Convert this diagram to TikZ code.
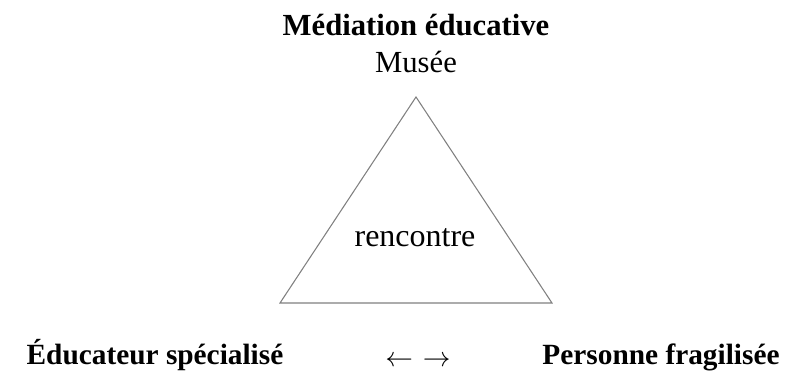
\documentclass[tikz,border=0pt]{standalone}
\usepackage{fontspec}
\setmainfont{Liberation Serif}
\usetikzlibrary{positioning}

\begin{document}
\begin{tikzpicture}[x=0.75pt, y=-0.75pt,
  lbl/.style={inner sep=0pt, anchor=base, font=\fontsize{23}{27}\selectfont},
  blbl/.style={lbl, font=\fontsize{23}{27}\selectfont\bfseries}]
\useasboundingbox (0,0) rectangle (794,374);
\coordinate (A) at (416,97);
\coordinate (B) at (280,303);
\coordinate (C) at (552,303);
\draw[gray, line width=0.8pt] (A) -- (B) -- (C) -- cycle;
\node[blbl] (titre) at (416,36) {Médiation éducative};
\node[lbl] (musee) at (416,73) {Musée};
\node[lbl, font=\fontsize{24}{28}\selectfont] (rencontre) at (415,247) {rencontre};
\node[blbl, font=\fontsize{22}{26}\selectfont\bfseries] (educ) at (155,365) {Éducateur spécialisé};
\node[lbl, font=\fontsize{22}{26}\selectfont] (fleche) at (418,367) {$\leftarrow$\,\,$\rightarrow$};
\node[blbl, font=\fontsize{22}{26}\selectfont\bfseries] (pers) at (661,365) {Personne fragilisée};
\end{tikzpicture}
\end{document}
